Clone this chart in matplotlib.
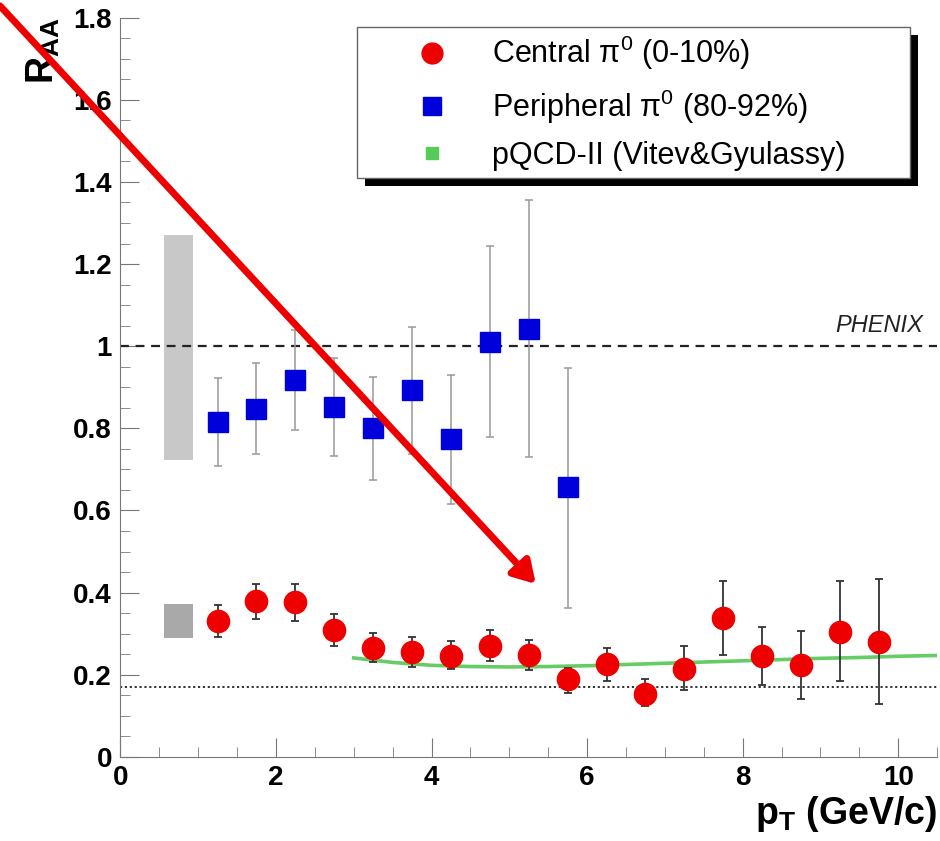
import matplotlib
matplotlib.use("Agg")
import matplotlib.pyplot as plt
from matplotlib.patches import Rectangle, FancyArrowPatch
from matplotlib.lines import Line2D
from matplotlib.ticker import MultipleLocator, FormatStrFormatter

plt.rcParams['font.family'] = ['Liberation Sans', 'DejaVu Sans']
plt.rcParams['mathtext.fontset'] = 'custom'
plt.rcParams['mathtext.rm'] = 'Liberation Sans'
plt.rcParams['mathtext.it'] = 'Liberation Sans:italic'
plt.rcParams['mathtext.bf'] = 'Liberation Sans:bold'

# central pi0 (0-10%)
cen_pt = [1.25, 1.75, 2.25, 2.75, 3.25, 3.75, 4.25, 4.75, 5.25, 5.75,
          6.25, 6.75, 7.25, 7.75, 8.25, 8.75, 9.25, 9.75]
cen_r = [0.330, 0.379, 0.377, 0.310, 0.264, 0.255, 0.246, 0.271, 0.247, 0.189,
         0.225, 0.154, 0.215, 0.337, 0.245, 0.223, 0.304, 0.279]
cen_lo = [0.292, 0.335, 0.332, 0.270, 0.230, 0.218, 0.215, 0.233, 0.211, 0.156,
          0.186, 0.123, 0.164, 0.248, 0.174, 0.141, 0.185, 0.130]
cen_hi = [0.369, 0.421, 0.421, 0.347, 0.302, 0.291, 0.281, 0.310, 0.284, 0.217,
          0.265, 0.189, 0.269, 0.429, 0.317, 0.307, 0.429, 0.433]

# peripheral pi0 (80-92%)
per_pt = [1.25, 1.75, 2.25, 2.75, 3.25, 3.75, 4.25, 4.75, 5.25, 5.75]
per_r = [0.815, 0.847, 0.918, 0.853, 0.801, 0.894, 0.774, 1.011, 1.042, 0.656]
per_lo = [0.708, 0.737, 0.796, 0.733, 0.675, 0.737, 0.615, 0.778, 0.730, 0.362]
per_hi = [0.922, 0.959, 1.040, 0.971, 0.926, 1.047, 0.929, 1.243, 1.355, 0.948]

# pQCD-II curve (Vitev & Gyulassy)
th_pt = [3.0, 3.5, 4.0, 4.5, 5.0, 5.5, 6.0, 6.5, 7.0, 7.5, 8.0, 8.5, 9.0, 9.5, 10.0, 10.5]
th_r = [0.241, 0.230, 0.223, 0.220, 0.219, 0.220, 0.222, 0.225, 0.228, 0.231,
        0.234, 0.237, 0.240, 0.242, 0.245, 0.247]

# normalisation boxes: (bottom, top)
box_per = (0.723, 1.272)
box_cen = (0.290, 0.373)
box_x = (0.56, 0.94)

fig = plt.figure(figsize=(9.4, 8.41), dpi=100)
ax = fig.add_axes([0.128, 0.100, 0.869, 0.879])
ax.set_xlim(0, 10.5)
ax.set_ylim(0, 1.8)

# grey systematic boxes
ax.add_patch(Rectangle((box_x[0], box_per[0]), box_x[1] - box_x[0], box_per[1] - box_per[0],
                       facecolor='#c8c8c8', edgecolor='none', zorder=1))
ax.add_patch(Rectangle((box_x[0], box_cen[0]), box_x[1] - box_x[0], box_cen[1] - box_cen[0],
                       facecolor='#a9a9a9', edgecolor='none', zorder=1))

ax.axhline(1.0, color='#222222', lw=1.6, ls=(0, (4, 3)), zorder=2)
ax.axhline(0.17, color='#222222', lw=1.3, ls=(0, (1.2, 1.5)), zorder=2)
ax.text(10.32, 1.035, 'PHENIX', style='italic', fontsize=17, ha='right', va='baseline', color='#222222')

ax.plot(th_pt, th_r, color='#66cc66', lw=2.6, zorder=3)

per_err = [[r - lo for r, lo in zip(per_r, per_lo)], [hi - r for r, hi in zip(per_r, per_hi)]]
ax.errorbar(per_pt, per_r, yerr=per_err, fmt='s', color='#0000dd', ms=14.5,
            ecolor='#999999', elinewidth=1.1, capsize=3, capthick=1.1, zorder=4)
cen_err = [[r - lo for r, lo in zip(cen_r, cen_lo)], [hi - r for r, hi in zip(cen_r, cen_hi)]]
ax.errorbar(cen_pt, cen_r, yerr=cen_err, fmt='o', color='#ee0000', ms=16,
            ecolor='#333333', elinewidth=1.3, capsize=3, capthick=1.3, zorder=5)

# axes style (ROOT-like, inward ticks)
for s in ['top', 'right']:
    ax.spines[s].set_visible(False)
for s in ['left', 'bottom']:
    ax.spines[s].set_color('#777777')
ax.xaxis.set_major_locator(MultipleLocator(2))
ax.xaxis.set_minor_locator(MultipleLocator(0.5))
ax.yaxis.set_major_locator(MultipleLocator(0.2))
ax.yaxis.set_minor_locator(MultipleLocator(0.05))
ax.xaxis.set_major_formatter(FormatStrFormatter('%g'))
ax.yaxis.set_major_formatter(FormatStrFormatter('%g'))
ax.tick_params(direction='in', which='major', length=14, color='#777777', labelsize=20, pad=6)
ax.tick_params(direction='in', which='minor', length=7, color='#777777')
for lab in ax.get_xticklabels() + ax.get_yticklabels():
    lab.set_fontweight('bold')

ax.set_xlabel(r'$\mathbf{p_T}$ (GeV/c)', fontsize=27, fontweight='bold', loc='right', labelpad=2)
ax.set_ylabel(r'$\mathbf{R_{AA}}$', fontsize=27, loc='top', labelpad=8)

# legend box with black drop shadow
ax.add_patch(Rectangle((0.300, 0.772), 0.677, 0.2045, transform=ax.transAxes,
                       facecolor='black', edgecolor='none', zorder=8, clip_on=False))
ax.add_patch(Rectangle((0.290, 0.7835), 0.677, 0.2045, transform=ax.transAxes,
                       facecolor='white', edgecolor='#666666', lw=1, zorder=9, clip_on=False))
handles = [Line2D([], [], ls='none', marker='o', color='#ee0000', ms=15),
           Line2D([], [], ls='none', marker='s', color='#0000dd', ms=13.5),
           Line2D([], [], ls='none', marker='s', color='#55cc55', ms=8)]
labels = ['Central π$^0$ (0-10%)', 'Peripheral π$^0$ (80-92%)', 'pQCD-II (Vitev&Gyulassy)']
leg = ax.legend(handles, labels, loc='upper left', bbox_to_anchor=(0.363, 0.978),
                frameon=False, fontsize=22, handlelength=1.0, handletextpad=1.45,
                labelspacing=0.5, borderpad=0, borderaxespad=0)
leg.set_zorder(10)

# red arrow overlay
fig.add_artist(FancyArrowPatch(posA=(0.0, 0.993), posB=(0.570, 0.3056), transform=fig.transFigure,
                               arrowstyle='-|>,head_length=1.0,head_width=0.6', mutation_scale=13,
                               color='#ee0000', lw=5, shrinkA=0, shrinkB=0, zorder=20))

fig.savefig('out.png', dpi=100)
